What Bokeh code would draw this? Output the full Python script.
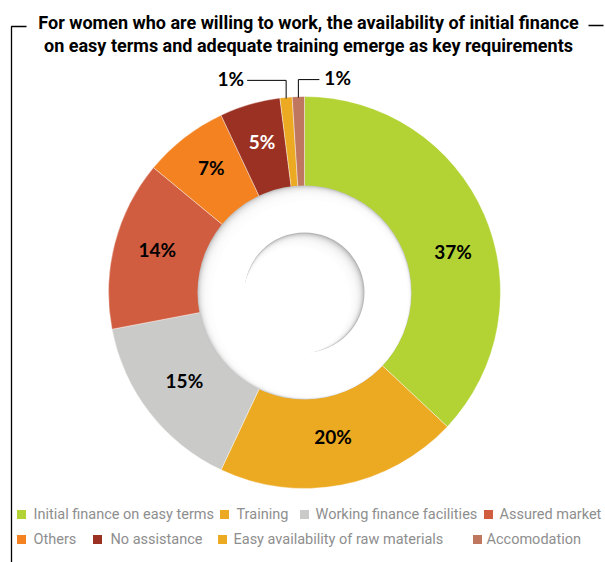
import math
import numpy as np
from bokeh.plotting import figure
from bokeh.models import Range1d, ColumnDataSource
from bokeh.core.properties import value
from bokeh.embed import file_html
from bokeh.resources import INLINE

# ---------------- data ----------------
title_lines = [
    "For women who are willing to work, the availability of initial finance",
    "on easy terms and adequate training emerge as key requirements",
]
categories = [
    "Initial finance on easy terms",
    "Training",
    "Working finance facilities",
    "Assured market",
    "Others",
    "No assistance",
    "Easy availability of raw materials",
    "Accomodation",
]
shares = [37, 20, 15, 14, 7, 5, 1, 1]
colors = ["#b3d335", "#eca922", "#cacac9", "#d05d40", "#f48221", "#9b3122", "#eca922", "#c0775f"]
label_colors = ["black", "black", "black", "black", "black", "white", "black", "black"]

# ---------------- layout ----------------
W, H = 605, 562
FONT_TITLE = "Roboto"
FONT_LEGEND = "Roboto"
FONT_LABEL = "Lato"


def Y(sy):
    return H - sy


p = figure(width=W, height=H, output_backend="svg", toolbar_location=None,
           x_range=Range1d(0, W), y_range=Range1d(0, H),
           x_axis_location=None, y_axis_location=None, min_border=0)
p.grid.visible = False
p.outline_line_color = None
p.background_fill_color = "white"
p.border_fill_color = "white"

cx, cy = 304, Y(292)
R_OUT, R_IN, R_HOLE = 196, 107, 60

total = float(sum(shares))
fr = np.array(shares) / total
cum = np.concatenate([[0.0], np.cumsum(fr)])
start = math.pi / 2 - 2 * math.pi * cum[:-1]
end = math.pi / 2 - 2 * math.pi * cum[1:]
mid = (start + end) / 2

src = ColumnDataSource(dict(x=[cx] * len(shares), y=[cy] * len(shares),
                            start=list(start), end=list(end), color=colors))
p.annular_wedge(x="x", y="y", inner_radius=R_IN - 2, outer_radius=R_OUT,
                start_angle="start", end_angle="end", direction="clock",
                fill_color="color", line_color="white", line_width=0.4, source=src)

# ---- shaded white ring (3D look, shadow at top-left) ----
p.circle(x=[cx], y=[cy], radius=R_IN, fill_color="#c4c4c4", line_color=None)
n = 16
for k in range(1, n + 1):
    off = k * 0.34
    p.circle(x=[cx + off], y=[cy - off], radius=R_IN - k * 0.52,
             fill_color="white", fill_alpha=0.25, line_color=None)
p.circle(x=[cx + 5.5], y=[cy - 5.5], radius=R_IN - 9, fill_color="white", line_color=None)

# ---- inner hole (shadow at top-right) ----
p.circle(x=[cx], y=[cy], radius=R_HOLE, fill_color="#b5b5b5", line_color=None)
for k in range(1, n + 1):
    off = k * 0.5
    p.circle(x=[cx - off], y=[cy - off], radius=R_HOLE - k * 0.4,
             fill_color="white", fill_alpha=0.25, line_color=None)
p.circle(x=[cx - 8], y=[cy - 8], radius=R_HOLE - 6, fill_color="white", line_color=None)

# ---- labels ----
label_nudge = {0: (9, 24)}  # screen-pixel nudges (dx right, dy down)
big = [i for i, s in enumerate(shares) if s >= 5]
LR = 152
lx = [cx + LR * math.cos(mid[i]) + label_nudge.get(i, (0, 0))[0] for i in big]
ly = [cy + LR * math.sin(mid[i]) + 5 - label_nudge.get(i, (0, 0))[1] for i in big]
p.text(x=lx, y=ly, text=["%d%%" % shares[i] for i in big],
       text_color=[label_colors[i] for i in big], text_font=value(FONT_LABEL),
       text_font_style="bold", text_font_size="19px", text_align="center",
       text_baseline="middle")

# small slices with leader lines
small = [i for i, s in enumerate(shares) if s < 5]
for j, i in enumerate(small):
    ax = cx + (R_OUT - 1) * math.cos(mid[i])
    ay = cy + (R_OUT - 1) * math.sin(mid[i])
    ty = ay + 18
    if j == 0:
        xs = [ax, ax, ax - 39]
        tx, align = ax - 42, "right"
    else:
        xs = [ax, ax, ax + 21]
        tx, align = ax + 26, "left"
    p.line(x=xs, y=[ay, ty, ty], line_color="black", line_width=1)
    p.text(x=[tx], y=[ty + 2], text=["%d%%" % shares[i]], text_color=label_colors[i],
           text_font=value(FONT_LABEL), text_font_style="bold", text_font_size="19px",
           text_align=align, text_baseline="middle")

# ---- title ----
p.text(x=[308, 308], y=[Y(22), Y(45)], text=title_lines, text_color="black",
       text_font=value(FONT_TITLE), text_font_style="bold", text_font_size="18px",
       text_align="center", text_baseline="middle")

# ---- frame ----
p.line(x=[26, 11, 11], y=[Y(26), Y(26), Y(562)], line_color="black", line_width=1.3)
p.line(x=[588, 603], y=[Y(25), Y(25)], line_color="black", line_width=1.3)

# ---- legend ----
leg_rows = [[0, 1, 2, 3], [4, 5, 6, 7]]
leg_sq_x = [[21, 224, 304, 488], [21, 97, 222, 477]]
leg_tx_x = [[33, 236, 315, 499], [33, 110, 233, 486]]
leg_y = [514, 539]
for r, row in enumerate(leg_rows):
    p.rect(x=leg_sq_x[r], y=[Y(leg_y[r])] * len(row), width=9, height=9,
           fill_color=[colors[i] for i in row], line_color=None)
    p.text(x=leg_tx_x[r], y=[Y(leg_y[r])] * len(row), text=[categories[i] for i in row],
           text_color="#8e8e8e", text_font=value(FONT_LEGEND), text_font_size="14.5px",
           text_align="left", text_baseline="middle")

open("out.html", "w").write(file_html(p, INLINE))
